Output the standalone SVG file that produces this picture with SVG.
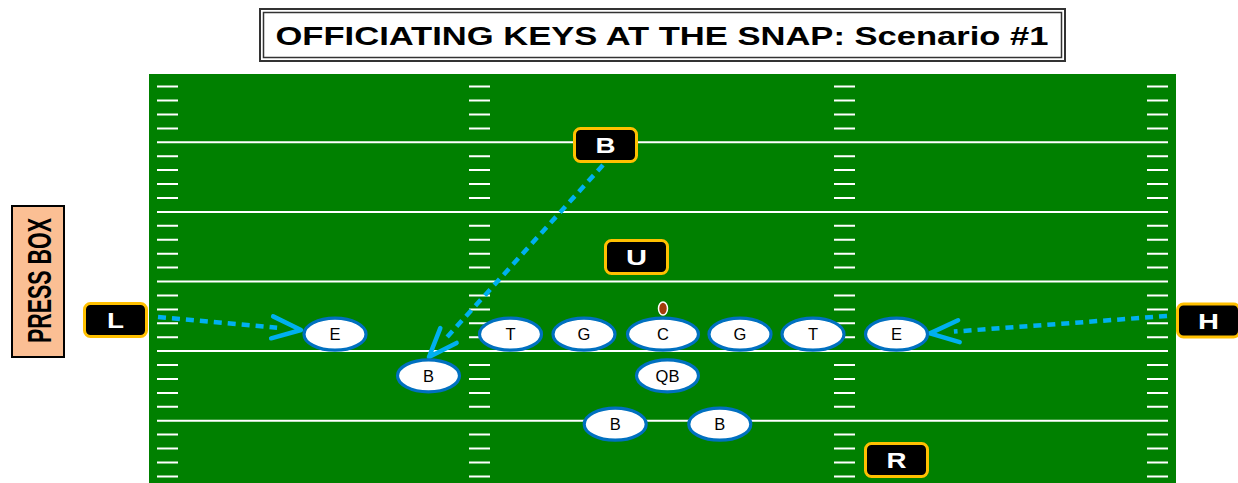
<svg xmlns="http://www.w3.org/2000/svg" xmlns:xlink="http://www.w3.org/1999/xlink" width="1238" height="483" viewBox="0 0 1238 483">
<style>
.title{font-family:"Liberation Sans",Arial,sans-serif;font-weight:bold;font-size:26px;fill:#000}
.yl{stroke:#fff;stroke-width:2;fill:none}
.player ellipse{fill:#fff;stroke:#0070C0;stroke-width:3.2}
.player text{font-family:"Liberation Sans",Arial,sans-serif;font-size:16.5px;fill:#000;text-anchor:middle}
.off rect{fill:#000;stroke:#FFC000;stroke-width:3}
.off text{font-family:"Liberation Sans",Arial,sans-serif;font-weight:bold;font-size:22px;fill:#fff;text-anchor:middle}
.conn{stroke:#00B0F0;stroke-width:4.5;stroke-dasharray:8 6;fill:none}
</style>
<defs>
<g id="hashrow" class="yl">
<path d="M157 0H178M469 0H490M834 0H855M1147 0H1168"/>
</g>
<marker id="chev" markerUnits="userSpaceOnUse" markerWidth="80" markerHeight="80" refX="0" refY="0" orient="auto" overflow="visible">
<path d="M-5,-11 L24,0 L-5,11" fill="none" stroke="#00B0F0" stroke-width="4.5" stroke-linecap="round" stroke-linejoin="round"/>
</marker>
</defs>
<rect width="1238" height="483" fill="#fff"/>
<g id="title">
<rect x="260" y="9" width="805" height="52" fill="#fff" stroke="#333" stroke-width="2"/>
<rect x="263.5" y="12.5" width="798" height="45" fill="none" stroke="#333" stroke-width="1.5"/>
<text class="title" x="662" y="44.5" text-anchor="middle" textLength="773" lengthAdjust="spacingAndGlyphs">OFFICIATING KEYS AT THE SNAP: Scenario #1</text>
</g>
<g id="field">
<rect x="149" y="74" width="1027" height="409" fill="#008000"/>
<path class="yl" d="M157 142.3H1168M157 211.9H1168M157 281.5H1168M157 351.1H1168M157 420.7H1168"/>
<use xlink:href="#hashrow" y="86.6"/><use xlink:href="#hashrow" y="100.5"/><use xlink:href="#hashrow" y="114.5"/><use xlink:href="#hashrow" y="128.4"/>
<use xlink:href="#hashrow" y="156.2"/><use xlink:href="#hashrow" y="170.1"/><use xlink:href="#hashrow" y="184.1"/><use xlink:href="#hashrow" y="198"/>
<use xlink:href="#hashrow" y="225.8"/><use xlink:href="#hashrow" y="239.8"/><use xlink:href="#hashrow" y="253.7"/><use xlink:href="#hashrow" y="267.6"/>
<use xlink:href="#hashrow" y="295.4"/><use xlink:href="#hashrow" y="309.4"/><use xlink:href="#hashrow" y="323.3"/><use xlink:href="#hashrow" y="337.2"/>
<use xlink:href="#hashrow" y="365"/><use xlink:href="#hashrow" y="379"/><use xlink:href="#hashrow" y="392.9"/><use xlink:href="#hashrow" y="406.8"/>
<use xlink:href="#hashrow" y="434.6"/><use xlink:href="#hashrow" y="448.6"/><use xlink:href="#hashrow" y="462.5"/><use xlink:href="#hashrow" y="476.4"/>
</g>
<g id="pressbox">
<rect x="12" y="206" width="52" height="151" fill="#FBBF94" stroke="#000" stroke-width="2"/>
<text transform="translate(50.5,280.5) rotate(-90)" x="0" y="0" text-anchor="middle" font-family="'Liberation Sans',Arial,sans-serif" font-weight="bold" font-size="33" textLength="125" lengthAdjust="spacingAndGlyphs" fill="#000">PRESS BOX</text>
</g>
<g id="ball"><ellipse cx="663" cy="308.5" rx="4.5" ry="6.5" fill="#A33C0A" stroke="#fff" stroke-width="1.5"/></g>
<g id="connectors">
<path class="conn" d="M158,317 L277.1,327.8" marker-end="url(#chev)"/>
<path class="conn" d="M1167,316 L953.9,331.6" marker-end="url(#chev)"/>
<path class="conn" d="M603,165 L445.1,339.2" marker-end="url(#chev)"/>
</g>
<g id="p-E1" class="player"><ellipse cx="335" cy="334.2" rx="31" ry="16"/><text x="335" y="340">E</text></g>
<g id="p-T1" class="player"><ellipse cx="510.5" cy="334.2" rx="31" ry="16"/><text x="510.5" y="340">T</text></g>
<g id="p-G1" class="player"><ellipse cx="584" cy="334.2" rx="31" ry="16"/><text x="584" y="340">G</text></g>
<g id="p-C" class="player"><ellipse cx="663" cy="334.2" rx="35.5" ry="16"/><text x="663" y="340">C</text></g>
<g id="p-G2" class="player"><ellipse cx="740" cy="334.2" rx="31" ry="16"/><text x="740" y="340">G</text></g>
<g id="p-T2" class="player"><ellipse cx="813" cy="334.2" rx="31" ry="16"/><text x="813" y="340">T</text></g>
<g id="p-E2" class="player"><ellipse cx="896.5" cy="334.2" rx="31" ry="16"/><text x="896.5" y="340">E</text></g>
<g id="p-B1" class="player"><ellipse cx="428.5" cy="375.8" rx="31" ry="16"/><text x="428.5" y="381.6">B</text></g>
<g id="p-QB" class="player"><ellipse cx="667.5" cy="375.8" rx="31" ry="16"/><text x="667.5" y="381.6">QB</text></g>
<g id="p-B2" class="player"><ellipse cx="615.2" cy="424.2" rx="31" ry="16"/><text x="615.2" y="430">B</text></g>
<g id="p-B3" class="player"><ellipse cx="719.8" cy="424.2" rx="31" ry="16"/><text x="719.8" y="430">B</text></g>
<g id="o-B" class="off"><rect x="574.5" y="128.5" width="62" height="33" rx="6"/><text x="605.5" y="153" textLength="20" lengthAdjust="spacingAndGlyphs">B</text></g>
<g id="o-U" class="off"><rect x="605.5" y="240.5" width="62" height="33" rx="6"/><text x="636.5" y="265" textLength="21" lengthAdjust="spacingAndGlyphs">U</text></g>
<g id="o-L" class="off"><rect x="84.5" y="303.5" width="62" height="33" rx="6"/><text x="115.5" y="328" textLength="17" lengthAdjust="spacingAndGlyphs">L</text></g>
<g id="o-H" class="off"><rect x="1177.5" y="304" width="62" height="33" rx="6"/><text x="1208.5" y="328.5" textLength="21" lengthAdjust="spacingAndGlyphs">H</text></g>
<g id="o-R" class="off"><rect x="865.5" y="443.5" width="62" height="33" rx="6"/><text x="896.5" y="468" textLength="20" lengthAdjust="spacingAndGlyphs">R</text></g>
</svg>
